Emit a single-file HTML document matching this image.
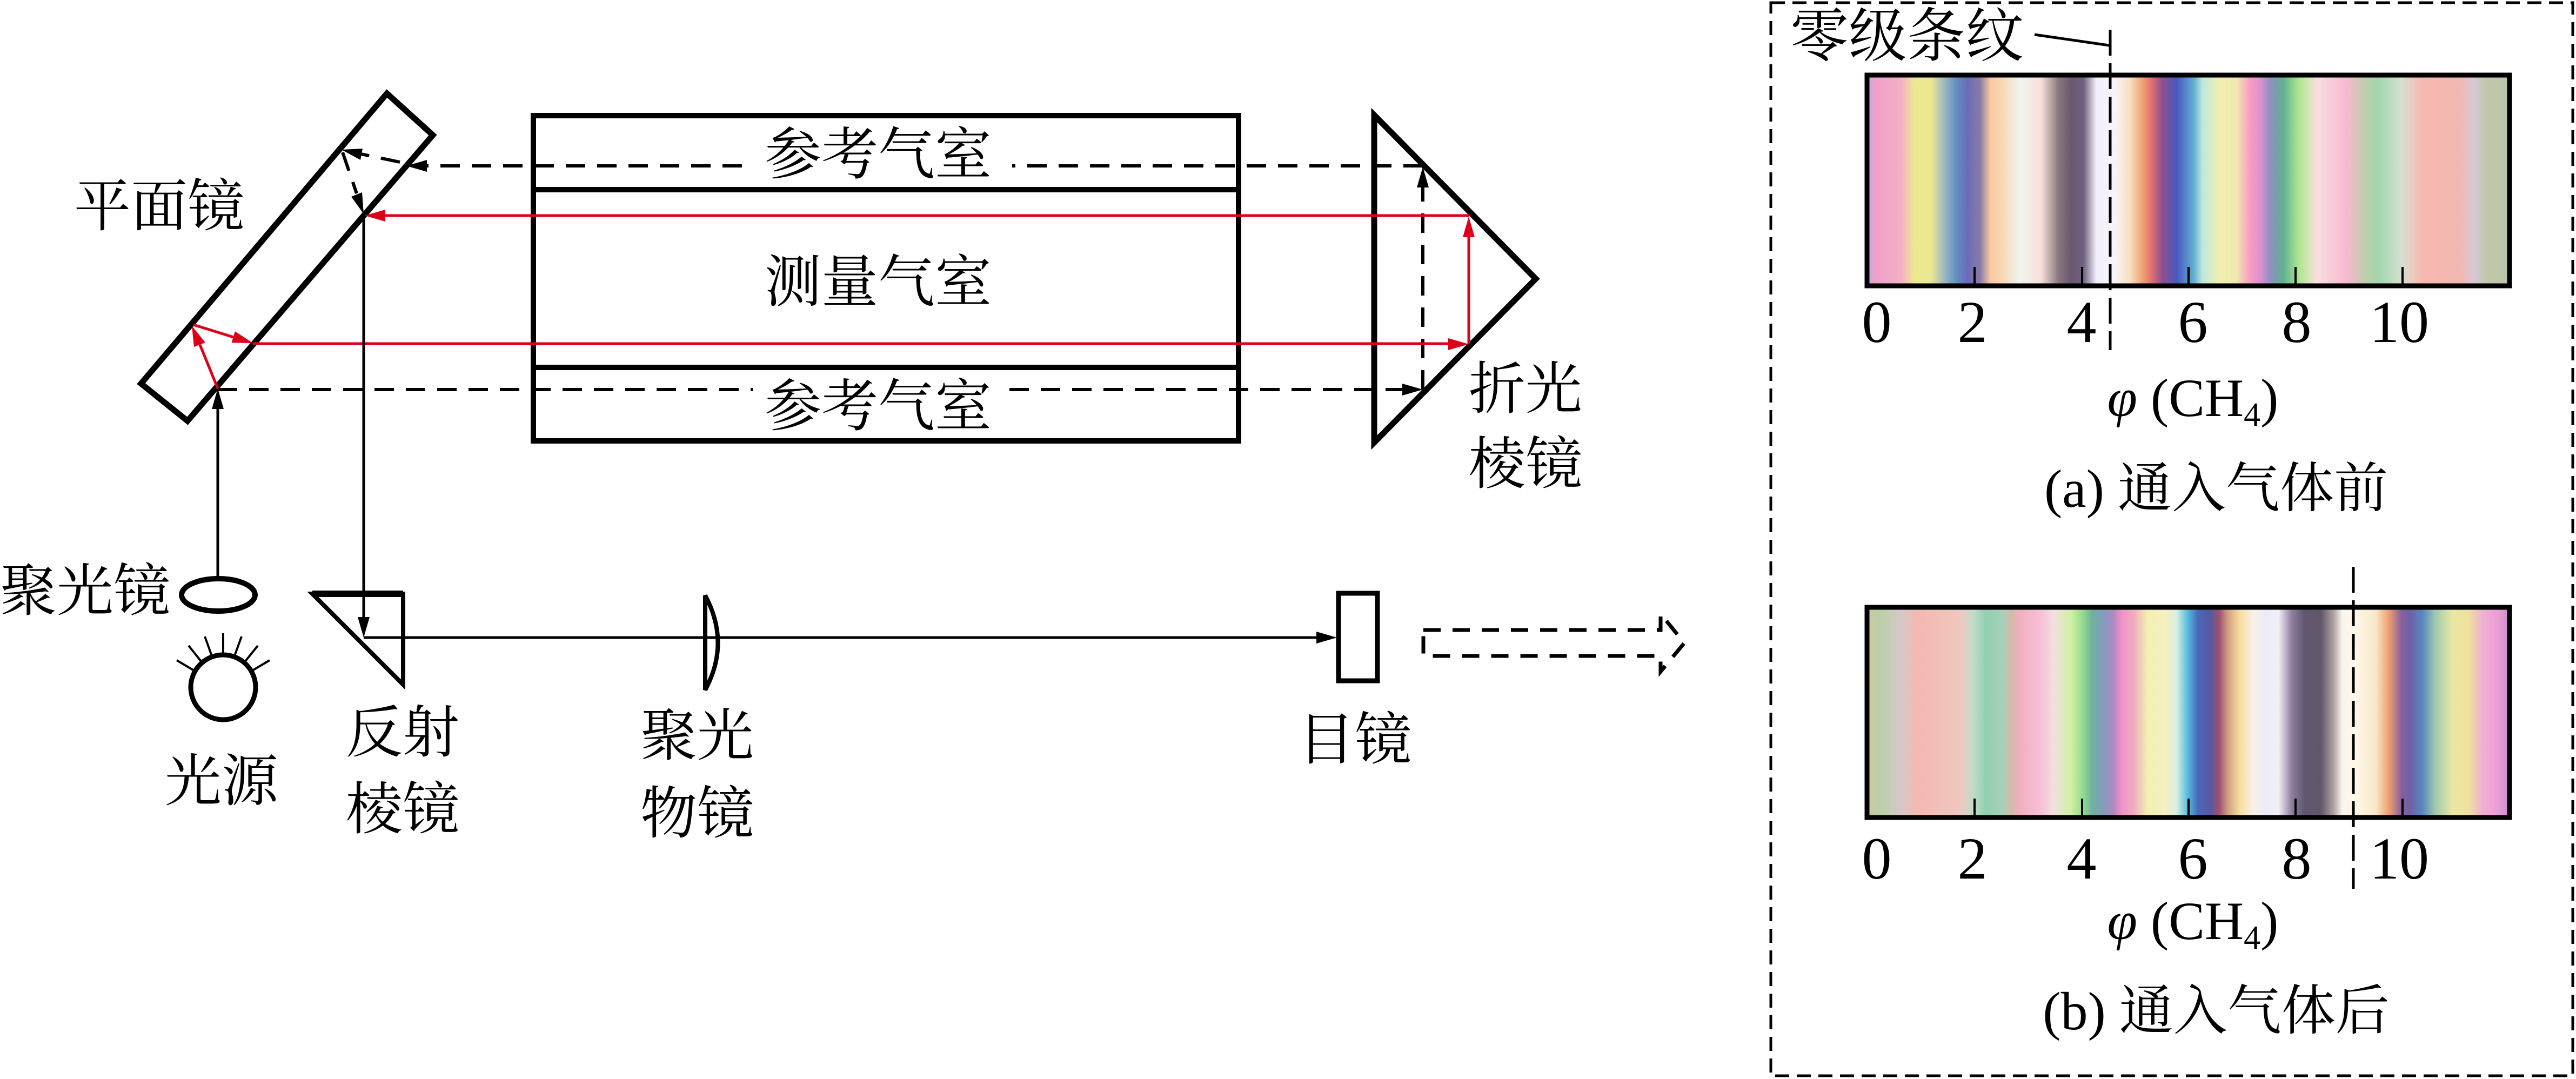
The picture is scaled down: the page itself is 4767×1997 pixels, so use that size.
<!DOCTYPE html>
<html><head><meta charset="utf-8"><style>
html,body{margin:0;padding:0;background:#fff;}
svg{display:block;}
text{font-family:"Liberation Serif","Noto Serif CJK SC",serif;fill:#000;}
</style></head><body>
<svg width="4767" height="1997" viewBox="0 0 4767 1997" xmlns="http://www.w3.org/2000/svg">
<defs>
<linearGradient id="ga" gradientUnits="userSpaceOnUse" x1="3440" y1="0" x2="4670" y2="0">
<stop offset=".014" stop-color="#c8a8e0"/><stop offset=".026" stop-color="#f0a0c8"/><stop offset=".064" stop-color="#f4b0c8"/><stop offset=".083" stop-color="#eee890"/><stop offset=".108" stop-color="#ece890"/><stop offset=".128" stop-color="#a0b8c0"/><stop offset=".147" stop-color="#5f8fc0"/><stop offset=".163" stop-color="#6a6ab8"/><stop offset=".182" stop-color="#8a7aa8"/><stop offset=".198" stop-color="#f8c8a0"/><stop offset=".217" stop-color="#f8d8b8"/><stop offset=".242" stop-color="#f0f4f0"/><stop offset=".274" stop-color="#f8e0d8"/><stop offset=".300" stop-color="#8a7880"/><stop offset=".319" stop-color="#6a5870"/><stop offset=".338" stop-color="#706080"/><stop offset=".357" stop-color="#f0eef8"/><stop offset=".383" stop-color="#f8f4fc"/><stop offset=".408" stop-color="#f8e0c0"/><stop offset=".427" stop-color="#f0a070"/><stop offset=".440" stop-color="#e07070"/><stop offset=".456" stop-color="#905090"/><stop offset=".478" stop-color="#4858c0"/><stop offset=".504" stop-color="#60b0d0"/><stop offset=".517" stop-color="#c0e8e0"/><stop offset=".542" stop-color="#f0f0b0"/><stop offset=".568" stop-color="#f0e8b0"/><stop offset=".587" stop-color="#f8a0c0"/><stop offset=".603" stop-color="#e090d0"/><stop offset=".619" stop-color="#9090c0"/><stop offset=".638" stop-color="#60b090"/><stop offset=".663" stop-color="#b0e890"/><stop offset=".689" stop-color="#f8e0e0"/><stop offset=".733" stop-color="#f8b8d0"/><stop offset=".765" stop-color="#b8d0a8"/><stop offset=".784" stop-color="#a0d8b0"/><stop offset=".816" stop-color="#d8e0d0"/><stop offset=".848" stop-color="#f8b8b0"/><stop offset=".906" stop-color="#f0b8b0"/><stop offset=".925" stop-color="#d8c8d8"/><stop offset=".944" stop-color="#c0c8a8"/><stop offset=".976" stop-color="#b8c8a8"/>
</linearGradient>
<linearGradient id="gb" gradientUnits="userSpaceOnUse" x1="3440" y1="0" x2="4670" y2="0">
<stop offset=".014" stop-color="#d0c8a0"/><stop offset=".032" stop-color="#b8d0a8"/><stop offset=".064" stop-color="#d8c8c8"/><stop offset=".089" stop-color="#f4b8b0"/><stop offset=".153" stop-color="#f0c8c0"/><stop offset=".172" stop-color="#c0dcc8"/><stop offset=".191" stop-color="#90d0b0"/><stop offset=".217" stop-color="#a8d0b8"/><stop offset=".230" stop-color="#d8b8a8"/><stop offset=".242" stop-color="#f0b0c0"/><stop offset=".274" stop-color="#f8c0d8"/><stop offset=".293" stop-color="#f0e0e0"/><stop offset=".319" stop-color="#d0f0a0"/><stop offset=".338" stop-color="#90d890"/><stop offset=".351" stop-color="#70b0a0"/><stop offset=".370" stop-color="#8898c0"/><stop offset=".383" stop-color="#b088c0"/><stop offset=".395" stop-color="#f090c8"/><stop offset=".415" stop-color="#f0b0c0"/><stop offset=".434" stop-color="#f0f0b0"/><stop offset=".459" stop-color="#f8f0c0"/><stop offset=".478" stop-color="#d8f0e0"/><stop offset=".494" stop-color="#58c0e0"/><stop offset=".510" stop-color="#4868b8"/><stop offset=".529" stop-color="#5858a0"/><stop offset=".542" stop-color="#a05070"/><stop offset=".555" stop-color="#d0a080"/><stop offset=".574" stop-color="#f8e0a0"/><stop offset=".593" stop-color="#f8f0e8"/><stop offset=".612" stop-color="#eceaf8"/><stop offset=".631" stop-color="#f0f0f8"/><stop offset=".651" stop-color="#9080a0"/><stop offset=".670" stop-color="#605870"/><stop offset=".695" stop-color="#605868"/><stop offset=".714" stop-color="#b0a0a0"/><stop offset=".727" stop-color="#f8f4f0"/><stop offset=".746" stop-color="#fff8e8"/><stop offset=".778" stop-color="#f8e8c8"/><stop offset=".797" stop-color="#f0a070"/><stop offset=".816" stop-color="#8860a0"/><stop offset=".829" stop-color="#7060a8"/><stop offset=".848" stop-color="#5888c0"/><stop offset=".867" stop-color="#a0c8b0"/><stop offset=".893" stop-color="#e8e8a0"/><stop offset=".918" stop-color="#f0e0a0"/><stop offset=".938" stop-color="#f0b0d0"/><stop offset=".957" stop-color="#f0a0d8"/><stop offset=".976" stop-color="#d090d0"/>
</linearGradient>
</defs>

<!-- plane mirror -->
<polygon points="716,173 801,250 347,779 261,710" fill="none" stroke="#000" stroke-width="11" stroke-linejoin="miter"/>

<!-- gas chamber -->
<rect x="987" y="214" width="1305" height="602" fill="none" stroke="#000" stroke-width="10"/>
<line x1="987" y1="351" x2="2292" y2="351" stroke="#000" stroke-width="10"/>
<line x1="987" y1="680" x2="2292" y2="680" stroke="#000" stroke-width="10"/>

<!-- refraction prism -->
<polygon points="2543,213 2842,516 2543,819" fill="none" stroke="#000" stroke-width="11" stroke-linejoin="miter"/>

<!-- dashed reference beams -->
<g stroke="#000" stroke-width="6" stroke-dasharray="36,22" fill="none">
<line x1="2633" y1="307" x2="1873" y2="307"/>
<line x1="1373" y1="307" x2="790" y2="307"/>
<line x1="740" y1="300" x2="668" y2="285"/>
<line x1="634" y1="282" x2="660" y2="358"/>
<line x1="403" y1="721" x2="1393" y2="721"/>
<line x1="1868" y1="721" x2="2597" y2="721"/>
<line x1="2633" y1="721" x2="2633" y2="345"/>
</g>

<!-- red measuring beams -->
<g stroke="#dc0018" stroke-width="5" fill="none">
<line x1="2718" y1="399" x2="710" y2="399"/>
<line x1="468" y1="636" x2="2682" y2="636"/>
<line x1="2718" y1="636" x2="2718" y2="437"/>
<line x1="403" y1="719" x2="370" y2="638"/>
<line x1="358" y1="601" x2="432" y2="624"/>
</g>
<g fill="#dc0018">
<polygon points="675,399 713,388 713,410"/>
<polygon points="2718,637 2680,626 2680,648"/>
<polygon points="2718,401 2707,439 2729,439"/>
<polygon points="355,603 380,634 359,642"/>
<polygon points="468,635 428.5,634.3 434.9,613.3"/>
</g>

<!-- black solid lines -->
<g stroke="#000" stroke-width="5" fill="none">
<line x1="403" y1="1070" x2="403" y2="750"/>
<line x1="673" y1="398" x2="673" y2="1150"/>
<line x1="673" y1="1180" x2="2440" y2="1180"/>
</g>
<g fill="#000">
<polygon points="752,307 790,296 790,318"/>
<polygon points="632,277 671,275 667,296"/>
<polygon points="673,396 670,356 650,364"/>
<polygon points="403,719 392,757 414,757"/>
<polygon points="2633,721 2595,710 2595,732"/>
<polygon points="2633,309 2622,347 2644,347"/>
<polygon points="673,1180 662,1142 684,1142"/>
<polygon points="2474,1180 2436,1169 2436,1191"/>
</g>

<!-- condenser lens -->
<ellipse cx="404" cy="1101" rx="68" ry="30" fill="none" stroke="#000" stroke-width="10"/>
<!-- light source -->
<circle cx="413" cy="1272" r="60" fill="none" stroke="#000" stroke-width="9"/>
<g stroke="#000" stroke-width="4">
<line x1="413" y1="1210" x2="413" y2="1172"/>
<line x1="392" y1="1214" x2="379" y2="1178"/>
<line x1="434" y1="1214" x2="447" y2="1178"/>
<line x1="373" y1="1225" x2="349" y2="1195"/>
<line x1="453" y1="1225" x2="477" y2="1195"/>
<line x1="359" y1="1241" x2="327" y2="1222"/>
<line x1="467" y1="1241" x2="499" y2="1222"/>
</g>

<!-- reflective prism -->
<polygon points="578,1099 746,1099 746,1267" fill="none" stroke="#000" stroke-width="8" stroke-linejoin="miter"/>
<line x1="578" y1="1099" x2="746" y2="1099" stroke="#000" stroke-width="12"/>
<!-- objective lens -->
<path d="M1305,1102 Q1352,1190 1305,1277 Z" fill="none" stroke="#000" stroke-width="8"/>
<!-- eyepiece -->
<rect x="2477" y="1098" width="72" height="162" fill="none" stroke="#000" stroke-width="9"/>
<!-- output dashed arrow -->
<path d="M2634,1166 H3073 V1136 L3117,1190 L3073,1243 V1214 H2634 Z" fill="none" stroke="#000" stroke-width="7" stroke-dasharray="32,22"/>

<!-- left labels -->
<g font-size="105">
<text x="1625" y="322" text-anchor="middle">参考气室</text>
<text x="1625" y="558" text-anchor="middle">测量气室</text>
<text x="1625" y="788" text-anchor="middle">参考气室</text>
<text x="137" y="418">平面镜</text>
<text x="2718" y="756">折光</text>
<text x="2718" y="895">棱镜</text>
<text x="0" y="1130">聚光镜</text>
<text x="305" y="1482">光源</text>
<text x="640" y="1392">反射</text>
<text x="640" y="1534">棱镜</text>
<text x="1185" y="1398">聚光</text>
<text x="1185" y="1542">物镜</text>
<text x="2402" y="1405">目镜</text>
</g>

<!-- right panel -->
<rect x="3277" y="5" width="1484" height="1986" fill="none" stroke="#000" stroke-width="5" stroke-dasharray="26,14"/>
<text x="3313" y="104" font-size="108">零级条纹</text>
<line x1="3765" y1="64" x2="3903" y2="84" stroke="#000" stroke-width="5"/>

<rect x="3455" y="139" width="1189" height="390" fill="url(#ga)" stroke="#000" stroke-width="9"/>
<g stroke="#000" stroke-width="4">
<line x1="3654" y1="494" x2="3654" y2="527"/><line x1="3853" y1="494" x2="3853" y2="527"/><line x1="4050" y1="494" x2="4050" y2="527"/><line x1="4248" y1="494" x2="4248" y2="527"/><line x1="4446" y1="494" x2="4446" y2="527"/>
</g>
<line x1="3905" y1="55" x2="3905" y2="648" stroke="#000" stroke-width="5" stroke-dasharray="48,14"/>
<g font-size="110" text-anchor="middle">
<text x="3473" y="633">0</text><text x="3650" y="633">2</text><text x="3852" y="633">4</text><text x="4058" y="633">6</text><text x="4250" y="633">8</text><text x="4440" y="633">10</text>
</g>
<text x="4058" y="770" font-size="100" text-anchor="middle"><tspan font-style="italic">φ</tspan> (CH<tspan font-size="62" dy="18">4</tspan><tspan dy="-18">)</tspan></text>
<text x="4101" y="938" font-size="100" text-anchor="middle">(a) 通入气体前</text>

<rect x="3455" y="1124" width="1189" height="389" fill="url(#gb)" stroke="#000" stroke-width="9"/>
<g stroke="#000" stroke-width="4">
<line x1="3654" y1="1478" x2="3654" y2="1511"/><line x1="3853" y1="1478" x2="3853" y2="1511"/><line x1="4050" y1="1478" x2="4050" y2="1511"/><line x1="4248" y1="1478" x2="4248" y2="1511"/><line x1="4446" y1="1478" x2="4446" y2="1511"/>
</g>
<line x1="4355" y1="1049" x2="4355" y2="1645" stroke="#000" stroke-width="5" stroke-dasharray="48,14"/>
<g font-size="110" text-anchor="middle">
<text x="3473" y="1626">0</text><text x="3650" y="1626">2</text><text x="3852" y="1626">4</text><text x="4058" y="1626">6</text><text x="4250" y="1626">8</text><text x="4440" y="1626">10</text>
</g>
<text x="4058" y="1738" font-size="100" text-anchor="middle"><tspan font-style="italic">φ</tspan> (CH<tspan font-size="62" dy="18">4</tspan><tspan dy="-18">)</tspan></text>
<text x="4101" y="1905" font-size="100" text-anchor="middle">(b) 通入气体后</text>
</svg>
</body></html>
